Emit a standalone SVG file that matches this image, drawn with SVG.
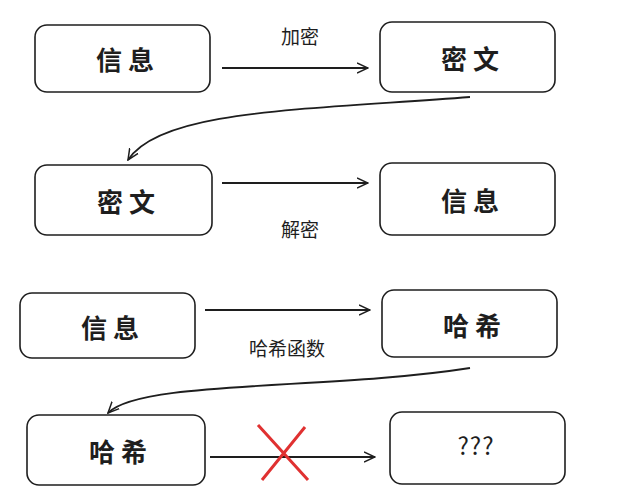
<svg xmlns="http://www.w3.org/2000/svg" width="621" height="500" viewBox="0 0 621 500">
<defs>
<marker id="ah" viewBox="0 0 12 12" refX="11" refY="6" markerWidth="12" markerHeight="12" markerUnits="userSpaceOnUse" orient="auto"><path d="M0,1 L11,6 L0,11" fill="none" stroke="#1e1e1e" stroke-width="1.5"/></marker>
</defs>
<style>
.box{fill:#fff;stroke:#1e1e1e;stroke-width:1.6}
.t{font-family:"Noto Sans CJK SC",sans-serif;font-weight:bold;font-size:26px;fill:#1e1e1e;text-anchor:middle;dominant-baseline:central;letter-spacing:6px}
.l{font-family:"Noto Sans CJK SC",sans-serif;font-size:19px;fill:#1e1e1e;text-anchor:middle;dominant-baseline:central}
.c{fill:none;stroke:#1e1e1e;stroke-width:1.8;marker-end:url(#ah)}
</style>
<rect width="621" height="500" fill="#fff"/>
<g id="n1"><rect class="box" x="35" y="25" width="175" height="67" rx="12"/><text class="t" x="128" y="58">信息</text></g>
<g id="n2"><rect class="box" x="380" y="22" width="175" height="70" rx="12"/><text class="t" x="473" y="57">密文</text></g>
<g id="n3"><rect class="box" x="35" y="165" width="177" height="70" rx="12"/><text class="t" x="129" y="200">密文</text></g>
<g id="n4"><rect class="box" x="380" y="163" width="175" height="72" rx="12"/><text class="t" x="473" y="199">信息</text></g>
<g id="n5"><rect class="box" x="20" y="293" width="175" height="65" rx="12"/><text class="t" x="113" y="326">信息</text></g>
<g id="n6"><rect class="box" x="382" y="290" width="175" height="67" rx="12"/><text class="t" x="475" y="324">哈希</text></g>
<g id="n7"><rect class="box" x="27" y="415" width="178" height="70" rx="12"/><text class="t" x="121" y="450">哈希</text></g>
<g id="n8"><rect class="box" x="390" y="412" width="175" height="72" rx="12"/><text class="t" x="476" y="444" style="font-weight:normal;font-size:24px;letter-spacing:1px">???</text></g>
<g id="connectors">
<path class="c" d="M222,68 L368,68"/>
<path class="c" d="M470,97 C300,110 160,110 128,160"/>
<path class="c" d="M222,183 L368,183"/>
<path class="c" d="M205,310 L370,310"/>
<path class="c" d="M470,368 C330,390 140,380 108,413"/>
<path class="c" d="M210,457 L375,457"/>
<path d="M258,425 L308,480 M305,427 L262,480" stroke="#e03131" stroke-width="3" fill="none"/>
</g>
<text class="l" x="300" y="35">加密</text>
<text class="l" x="300" y="228">解密</text>
<text class="l" x="287" y="347">哈希函数</text>
</svg>
